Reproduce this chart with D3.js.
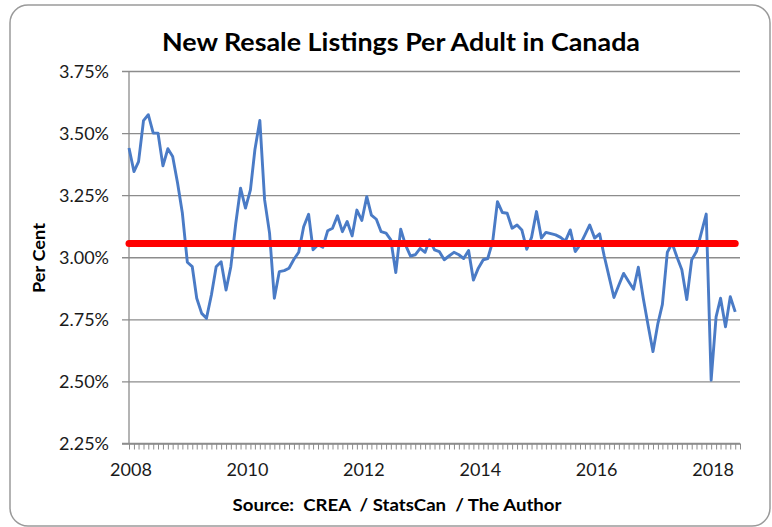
<!DOCTYPE html>
<html>
<head>
<meta charset="utf-8">
<script src="https://cdn.jsdelivr.net/npm/d3@7"></script>
<style>
  html, body { margin: 0; padding: 0; background: #ffffff; }
  svg { display: block; }
</style>
</head>
<body>
<svg id="chart" width="772" height="527"></svg>
<script>
// ---- Data ----
const titleText = "New Resale Listings Per Adult in Canada";
const yAxisTitle = "Per Cent";
const sourceText = "Source:  CREA  / StatsCan  / The Author";
const startMonth = "2008-01";
const endMonth = "2018-07";
// New resale listings per adult (%), monthly from Jan 2008
const listingsPct = [
  3.44, 3.345, 3.385, 3.55, 3.574, 3.50, 3.50, 3.368, 3.437, 3.406, 3.298, 3.177,
  2.98, 2.962, 2.835, 2.774, 2.754, 2.848, 2.962, 2.982, 2.868, 2.962, 3.137, 3.278,
  3.198, 3.271, 3.433, 3.551, 3.231, 3.097, 2.835, 2.942, 2.946, 2.956, 2.992, 3.02,
  3.123, 3.173, 3.03, 3.05, 3.04, 3.107, 3.117, 3.167, 3.103, 3.144, 3.086, 3.19,
  3.148, 3.244, 3.17, 3.153, 3.103, 3.097, 3.07, 2.938, 3.113, 3.05, 3.005, 3.01,
  3.036, 3.02, 3.07, 3.03, 3.023, 2.99, 3.005, 3.02, 3.01, 2.995, 3.027, 2.908,
  2.956, 2.99, 2.995, 3.063, 3.224, 3.18, 3.177, 3.117, 3.13, 3.11, 3.032, 3.08,
  3.184, 3.077, 3.10, 3.095, 3.09, 3.08, 3.065, 3.11, 3.023, 3.05, 3.09, 3.13,
  3.077, 3.094, 3.005, 2.92, 2.838, 2.888, 2.935, 2.902, 2.871, 2.96, 2.835, 2.727,
  2.62, 2.734, 2.81, 3.02, 3.056, 3.00, 2.95, 2.83, 2.99, 3.023, 3.10, 3.174,
  2.505, 2.76, 2.835, 2.72, 2.841, 2.78
];
const averageLevel = [3.055];
const yTicks = [2.25, 2.50, 2.75, 3.00, 3.25, 3.50, 3.75];
const xLabelYears = [2008, 2010, 2012, 2014, 2016, 2018];

// ---- Setup ----
const svg = d3.select("#chart");
const parseMonth = d3.timeParse("%Y-%m");
const t0 = parseMonth(startMonth);
const t1 = parseMonth(endMonth);
const dates = listingsPct.map((v, i) => d3.timeMonth.offset(t0, i));
const series = listingsPct.map((v, i) => ({ date: dates[i], value: v }));

const plot = { left: 129, right: 740, top: 71, bottom: 443.5 };
const x = d3.scaleTime().domain([t0, t1]).range([plot.left, plot.right]);
const y = d3.scaleLinear().domain([2.25, 3.75]).range([plot.bottom, plot.top]);

const gridColor = "#8c8c8c";
const textColor = "#1a1a1a";
const fontFam = "Lato, 'Open Sans', 'Noto Sans', sans-serif";

// outer rounded border
svg.append("rect")
  .attr("x", 10).attr("y", 5)
  .attr("width", 760).attr("height", 521)
  .attr("rx", 18).attr("ry", 18)
  .attr("fill", "#ffffff")
  .attr("stroke", "#9a9a9a")
  .attr("stroke-width", 1.5);

// title
svg.append("text")
  .attr("x", 401).attr("y", 51)
  .attr("text-anchor", "middle")
  .attr("font-family", fontFam)
  .attr("font-weight", "bold")
  .attr("font-size", 25)
  .attr("fill", "#000")
  .attr("textLength", 478)
  .attr("lengthAdjust", "spacingAndGlyphs")
  .text(titleText);

// y axis with gridlines
const yAxis = d3.axisLeft(y)
  .tickValues(yTicks)
  .tickSize(-(plot.right - plot.left))
  .tickPadding(20)
  .tickFormat(d => d3.format(".2f")(d) + "%");

const gy = svg.append("g")
  .attr("transform", `translate(${plot.left},0)`)
  .call(yAxis);
gy.select(".domain").remove();
gy.selectAll(".tick line")
  .attr("x1", -7)
  .attr("stroke", gridColor)
  .attr("stroke-width", 1.3);
gy.selectAll(".tick text")
  .attr("font-family", fontFam)
  .attr("font-size", 18)
  .attr("fill", textColor)
  .attr("dy", "0.34em");

// vertical y axis line
svg.append("line")
  .attr("x1", plot.left).attr("x2", plot.left)
  .attr("y1", plot.top).attr("y2", plot.bottom)
  .attr("stroke", gridColor)
  .attr("stroke-width", 1.3);

// x axis with monthly minor ticks
const xAxis = d3.axisBottom(x)
  .ticks(d3.timeMonth.every(1))
  .tickSize(6)
  .tickFormat("");
const gx = svg.append("g")
  .attr("transform", `translate(0,${plot.bottom})`)
  .call(xAxis);
gx.select(".domain").attr("stroke", gridColor).attr("stroke-width", 1.3)
  .attr("d", `M${plot.left - 7},0H${plot.right}`);
gx.selectAll(".tick line").attr("stroke", gridColor).attr("stroke-width", 1);

// year labels
svg.append("g").selectAll("text")
  .data(xLabelYears)
  .join("text")
  .attr("x", d => x(new Date(d, 0, 1)) + 2)
  .attr("y", 476)
  .attr("text-anchor", "middle")
  .attr("font-family", fontFam)
  .attr("font-size", 18)
  .attr("fill", textColor)
  .text(d => d);

// y axis title
svg.append("text")
  .attr("transform", "translate(45,258) rotate(-90)")
  .attr("text-anchor", "middle")
  .attr("font-family", fontFam)
  .attr("font-weight", "bold")
  .attr("font-size", 17)
  .attr("fill", "#000")
  .attr("textLength", 70)
  .attr("lengthAdjust", "spacingAndGlyphs")
  .text(yAxisTitle);

// source
svg.append("text")
  .attr("x", 397).attr("y", 511)
  .attr("text-anchor", "middle")
  .attr("font-family", fontFam)
  .attr("font-weight", "bold")
  .attr("font-size", 17)
  .attr("fill", "#000")
  .attr("textLength", 329)
  .attr("lengthAdjust", "spacingAndGlyphs")
  .style("white-space", "pre")
  .text(sourceText);

// data line
const line = d3.line()
  .x(d => x(d.date))
  .y(d => y(d.value));

svg.append("path")
  .datum(series)
  .attr("fill", "none")
  .attr("stroke", "#4a7bc6")
  .attr("stroke-width", 2.9)
  .attr("stroke-linejoin", "round")
  .attr("d", line);

// average (red) line
const avgData = [
  { date: dates[0], value: averageLevel[0] },
  { date: dates[dates.length - 1], value: averageLevel[0] }
];
svg.append("path")
  .datum(avgData)
  .attr("fill", "none")
  .attr("stroke", "#ff0000")
  .attr("stroke-width", 7)
  .attr("stroke-linecap", "round")
  .attr("d", line);
</script>
</body>
</html>
